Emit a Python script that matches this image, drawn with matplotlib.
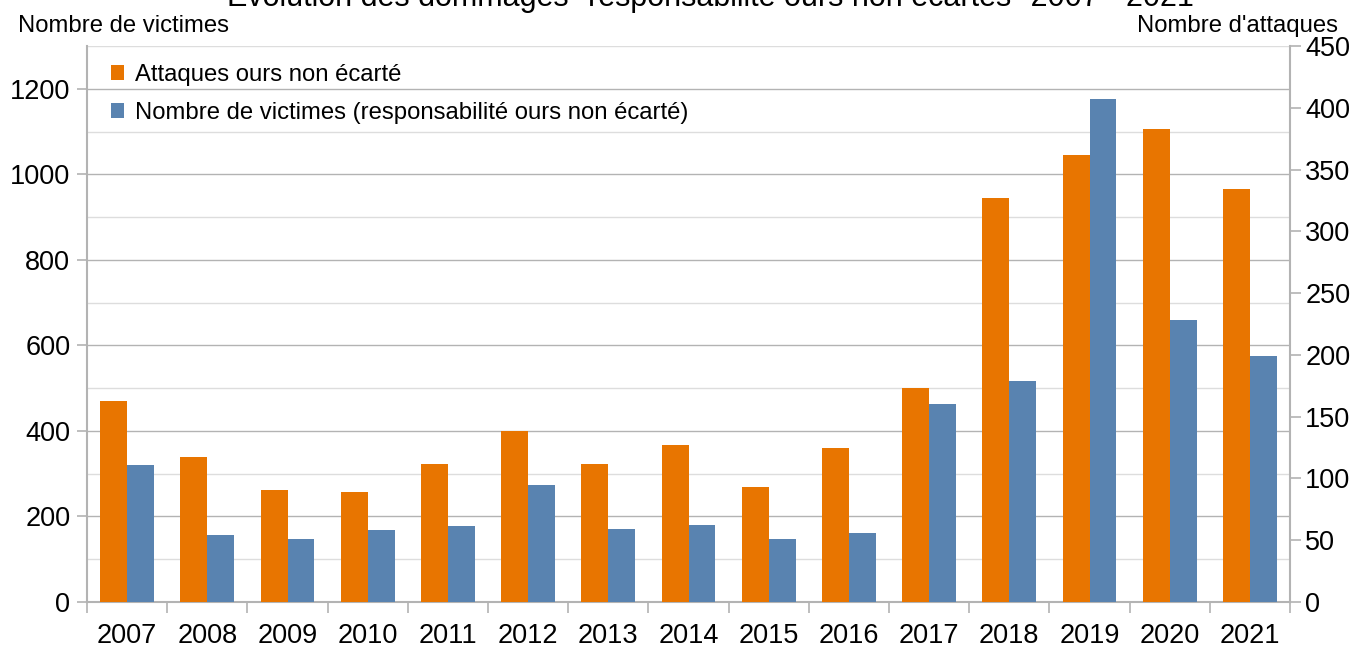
import matplotlib
matplotlib.use("Agg")
import matplotlib.pyplot as plt
import numpy as np
from matplotlib.patches import Patch

plt.rcParams['font.family'] = ['Liberation Sans', 'DejaVu Sans']

years = ["2007", "2008", "2009", "2010", "2011", "2012", "2013", "2014",
         "2015", "2016", "2017", "2018", "2019", "2020", "2021"]
attaques = [163, 117, 91, 89, 112, 138, 112, 127, 93, 125, 173, 327, 362, 383, 334]
victimes = [320, 156, 147, 168, 177, 273, 170, 180, 147, 161, 463, 516, 1175, 660, 575]

label_att = "Attaques ours non écarté"
label_vic = "Nombre de victimes (responsabilité ours non écarté)"
title = "Évolution des dommages \"responsabilité ours non écartés\" 2007 - 2021"

c_orange = "#E87500"
c_blue = "#5983B0"
grid_major = "#B3B3B3"
grid_minor = "#DDDDDD"

W, H = 1356, 645
fig = plt.figure(figsize=(W / 100, H / 100), dpi=100)
ax = fig.add_axes([87 / W, 1 - 602 / H, (1290 - 87) / W, (602 - 46) / H])
ax2 = ax.twinx()

x = np.arange(len(years))
w = 0.336
ax.bar(x + w / 2, victimes, width=w, color=c_blue, zorder=3, linewidth=0)
ax2.bar(x - w / 2, attaques, width=w, color=c_orange, zorder=3, linewidth=0)

ax.set_xlim(-0.5, len(years) - 0.5)
ax.set_ylim(0, 1300)
ax2.set_ylim(0, 450)
ax.set_yticks(np.arange(0, 1201, 200))
ax2.set_yticks(np.arange(0, 451, 50))

# gridlines
for v in range(100, 1301, 100):
    col = grid_major if v % 200 == 0 else grid_minor
    ax.axhline(v, color=col, lw=1.0, zorder=1)

ax.set_xticks(x)
ax.set_xticklabels(years)
ax.set_xticks(np.arange(-0.5, len(years) - 0.4, 1), minor=True)
ax.tick_params(axis='x', which='major', length=0, pad=15, labelsize=19.5)
ax.tick_params(axis='x', which='minor', length=8, width=1.2, color=grid_major)
ax.tick_params(axis='y', which='major', length=7, width=1.2, color=grid_major, labelsize=19.5, pad=5)
ax2.tick_params(axis='y', which='major', length=8, width=1.2, color=grid_major, labelsize=19.5, pad=3)
ax2.tick_params(axis='x', length=0)

for a in (ax, ax2):
    for s in a.spines.values():
        s.set_visible(False)
ax.spines['left'].set_visible(True)
ax.spines['left'].set_color(grid_major)
ax.spines['left'].set_linewidth(1.5)
ax.spines['bottom'].set_visible(True)
ax.spines['bottom'].set_color(grid_major)
ax.spines['bottom'].set_linewidth(1.5)
ax2.spines['right'].set_visible(True)
ax2.spines['right'].set_color(grid_major)
ax2.spines['right'].set_linewidth(1.5)

# axis titles at top
fig.text(18 / W, 1 - 26 / H, "Nombre de victimes", fontsize=17.2, ha='left', va='center')
fig.text(1338 / W, 1 - 26 / H, "Nombre d'attaques", fontsize=17.2, ha='right', va='center')

# title (clipped at top like the reference)
fig.text(710 / W, 1 - 6 / H, title, fontsize=22, ha='center', va='baseline')

handles = [Patch(facecolor=c_orange, edgecolor='none'), Patch(facecolor=c_blue, edgecolor='none')]
leg = ax.legend(handles, [label_att, label_vic], loc='upper left', bbox_to_anchor=(0.012, 0.985),
                frameon=False, fontsize=17.2, handlelength=0.55, handleheight=0.55,
                handletextpad=0.45, labelspacing=0.68, borderaxespad=0)
leg.set_zorder(5)

fig.savefig("out.png", dpi=100)
